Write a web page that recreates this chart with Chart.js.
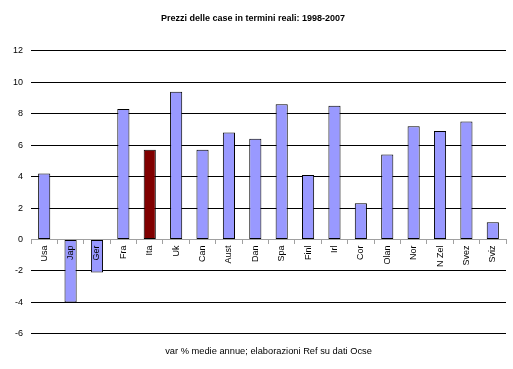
<!DOCTYPE html>
<html>
<head>
  <meta charset="utf-8" />
  <title>Prezzi delle case in termini reali: 1998-2007</title>
  <script src="https://cdn.jsdelivr.net/npm/chart.js@4.4.0/dist/chart.umd.min.js"></script>
  <style>
    body { margin: 0; background: #fff; }
    #wrap { width: 513px; height: 369px; position: relative; }
  </style>
</head>
<body>
<div id="wrap">
  <canvas id="chart"></canvas>
</div>
<script>
  // dati: var % medie annue dei prezzi reali delle case
  const paesi = ['Usa', 'Jap', 'Ger', 'Fra', 'Ita', 'Uk', 'Can', 'Aust', 'Dan', 'Spa',
                 'Finl', 'Irl', 'Cor', 'Olan', 'Nor', 'N Zel', 'Svez', 'Sviz'];
  const valori = [4.2, -4.0, -2.1, 8.3, 5.7, 9.4, 5.7, 6.8, 6.4, 8.6,
                  4.1, 8.5, 2.3, 5.4, 7.2, 6.9, 7.5, 1.1];
  const yTicks = [-6, -4, -2, 0, 2, 4, 6, 8, 10, 12];

  const FONT = "'Liberation Sans', Arial, sans-serif";
  const colori = paesi.map(p => p === 'Ita' ? '#800000' : '#9999ff');

  new Chart(document.getElementById('chart'), {
    type: 'bar',
    data: {
      labels: paesi,
      datasets: [{
        data: valori,
        backgroundColor: colori,
        borderColor: '#000',
        borderWidth: 1,
        borderSkipped: false,
        inflateAmount: 0,
        barPercentage: 0.46,
        categoryPercentage: 1
      }]
    },
    options: {
      responsive: true,
      maintainAspectRatio: false,
      animation: false,
      layout: { padding: { left: 0, right: 7, top: 0, bottom: 0 } },
      plugins: {
        legend: { display: false },
        tooltip: { enabled: false },
        title: {
          display: true,
          text: 'Prezzi delle case in termini reali: 1998-2007',
          color: '#000',
          font: { family: FONT, size: 9, weight: 'bold' },
          padding: { top: 13, bottom: 27 }
        },
        subtitle: {
          display: true,
          position: 'bottom',
          fullSize: false,
          text: 'var % medie annue; elaborazioni Ref su dati Ocse',
          color: '#000',
          font: { family: FONT, size: 9.3 },
          padding: { top: 12, bottom: 12 }
        }
      },
      scales: {
        x: {
          position: { y: 0 },
          border: { display: true, color: '#a0a0a0', width: 1 },
          grid: { display: true, drawOnChartArea: false, offset: true, color: '#a0a0a0', tickLength: 4 },
          ticks: {
            z: 1,
            color: '#000',
            font: { family: FONT, size: 9 },
            minRotation: 90,
            maxRotation: 90,
            autoSkip: false,
            padding: 2
          }
        },
        y: {
          min: -6,
          max: 12,
          afterBuildTicks: scale => { scale.ticks = yTicks.map(v => ({ value: v })); },
          afterFit: scale => { scale.width = 31; },
          border: { display: false },
          grid: {
            color: ctx => ctx.tick && ctx.tick.value === 0 ? '#a0a0a0' : '#000',
            tickLength: 0
          },
          ticks: {
            color: '#000',
            font: { family: FONT, size: 9 },
            padding: 8
          }
        }
      }
    }
  });
</script>
</body>
</html>
